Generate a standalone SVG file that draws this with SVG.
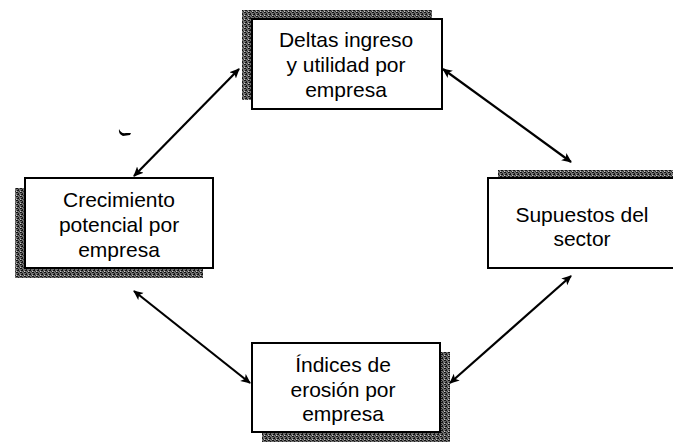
<svg xmlns="http://www.w3.org/2000/svg" width="673" height="442" viewBox="0 0 673 442">
  <defs>
    <pattern id="hatch" width="4" height="4" patternUnits="userSpaceOnUse">
      <rect width="4" height="4" fill="#6e6e6e"/>
      <rect x="0" y="0" width="2" height="1" fill="#111"/>
      <rect x="2" y="1" width="1" height="2" fill="#222"/>
      <rect x="1" y="2" width="2" height="1" fill="#111"/>
      <rect x="3" y="3" width="1" height="1" fill="#333"/>
      <rect x="0" y="3" width="1" height="1" fill="#c8c8c8"/>
    </pattern>
    <marker id="ah" viewBox="0 0 10 10" refX="9" refY="5" markerWidth="10" markerHeight="10" markerUnits="userSpaceOnUse" orient="auto-start-reverse">
      <path d="M0,0.5 L10,5 L0,9.5 L2.5,5 Z" fill="#000"/>
    </marker>
  </defs>
  <style>
    .shadow { fill: url(#hatch); }
    .box { fill: #fff; stroke: #000; stroke-width: 2; }
    .lbl { font-family: "Liberation Sans", Arial, sans-serif; font-size: 21px; fill: #000; text-anchor: middle; }
    .conn { stroke: #000; stroke-width: 2.2; fill: none; marker-start: url(#ah); marker-end: url(#ah); }
  </style>
  <rect width="673" height="442" fill="#fff"/>

  <g id="connectors">
    <line class="conn" x1="134" y1="176" x2="239" y2="69"/>
    <line class="conn" x1="443" y1="69" x2="571" y2="162"/>
    <line class="conn" x1="134" y1="291" x2="250" y2="383"/>
    <line class="conn" x1="450" y1="383" x2="571" y2="276"/>
  </g>

  <g id="node-deltas">
    <rect class="shadow" x="242" y="10" width="190" height="90"/>
    <rect class="box" x="252" y="19" width="190" height="90"/>
    <text class="lbl" x="346" y="47">Deltas ingreso</text>
    <text class="lbl" x="346" y="72">y utilidad por</text>
    <text class="lbl" x="346" y="97">empresa</text>
  </g>

  <g id="node-crecimiento">
    <rect class="shadow" x="15" y="188" width="188" height="90"/>
    <rect class="box" x="25" y="178" width="188" height="90"/>
    <text class="lbl" x="119" y="207">Crecimiento</text>
    <text class="lbl" x="119" y="232">potencial por</text>
    <text class="lbl" x="119" y="257">empresa</text>
  </g>

  <g id="node-supuestos">
    <rect class="shadow" x="498" y="170" width="190" height="90"/>
    <rect class="box" x="488" y="178" width="190" height="90"/>
    <text class="lbl" x="582" y="222">Supuestos del</text>
    <text class="lbl" x="582" y="246">sector</text>
  </g>

  <g id="node-indices">
    <rect class="shadow" x="262" y="352" width="188" height="90"/>
    <rect class="box" x="252" y="343" width="188" height="89"/>
    <text class="lbl" x="343" y="372">Índices de</text>
    <text class="lbl" x="343" y="397">erosión por</text>
    <text class="lbl" x="343" y="421">empresa</text>
  </g>

  <path d="M119,129 Q121,134 126,133 L131,133 L130,135 L123,136 Q118,134 119,129 Z" fill="#000"/>
</svg>
